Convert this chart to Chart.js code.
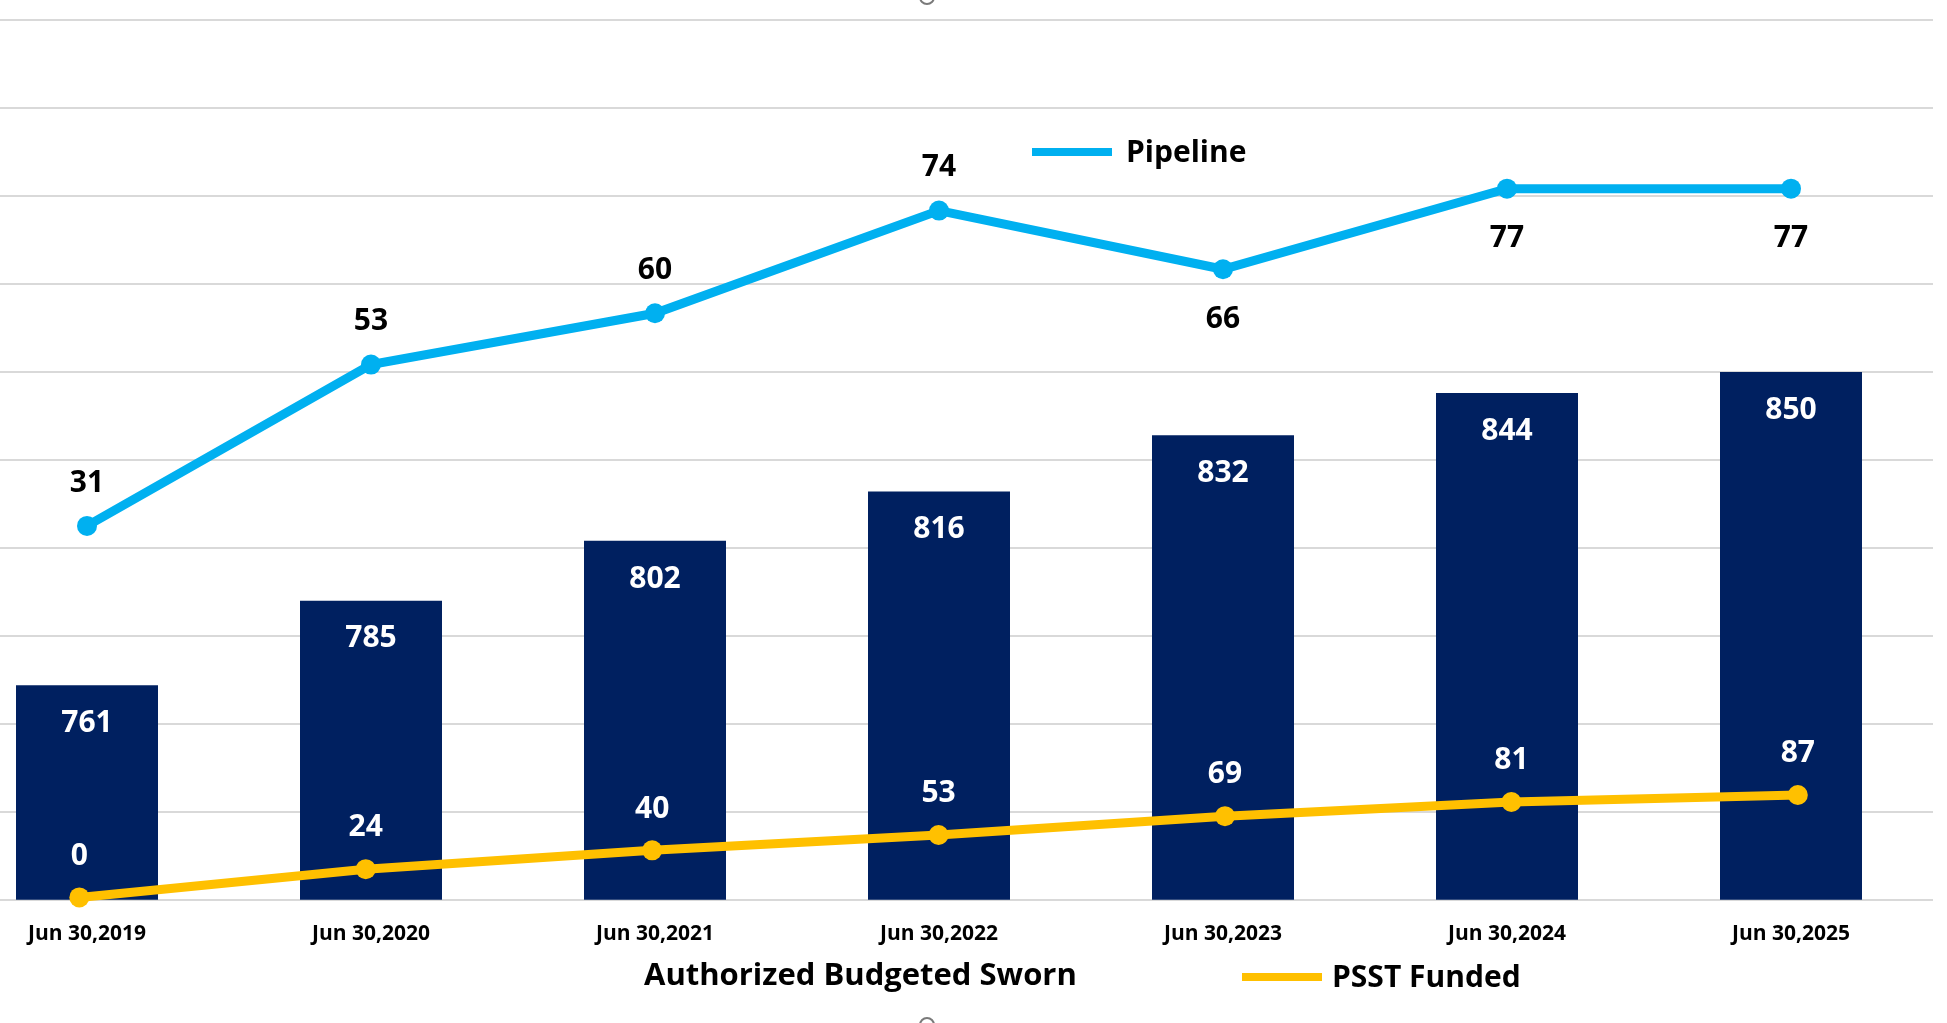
<!DOCTYPE html>
<html><head><meta charset="utf-8">
<script src="https://cdn.jsdelivr.net/npm/chart.js@4.4.1/dist/chart.umd.min.js"></script>
<style>
html,body{margin:0;padding:0;background:#fff;overflow:hidden;width:1947px;height:1023px;position:relative;}
#wrap{position:absolute;left:-55px;top:0;width:1988px;height:1023px;}
.leg{position:absolute;font-family:'Open Sans', sans-serif;font-weight:700;font-size:30px;line-height:30px;color:#000;white-space:nowrap;}
.sw{position:absolute;height:8px;width:80px;}
.handle{position:absolute;width:12px;height:12px;border:2.5px solid #7a7a7a;border-radius:50%;background:#fff;}
</style></head><body>
<div id="wrap"><canvas id="c" width="1988" height="1023"></canvas></div>
<div id="legends"></div>
<div class="handle" style="left:919px;top:-11px"></div>
<div class="handle" style="left:919px;top:1017px"></div>
<script>
// ---- data ----
const categories = ['Jun 30,2019','Jun 30,2020','Jun 30,2021','Jun 30,2022','Jun 30,2023','Jun 30,2024','Jun 30,2025'];
const seriesNames = ['Authorized Budgeted Sworn','Pipeline','PSST Funded'];
const budgetedSworn = [761,785,802,816,832,844,850];
const pipeline = [31,53,60,74,66,77,77];
const psstFunded = [0,24,40,53,69,81,87];
const pipelineLabelSide = ['above','above','above','above','below','below','below'];

const NAVY = '#002060', CYAN = '#00B0F0', GOLD = '#FFC000';
const FONT = "'Open Sans', sans-serif";

// ---- legends (real text) ----
const legendSpec = [
  {name: seriesNames[1], color: CYAN, sw: [1032,148], txt: [1126,136], size: 30},
  {name: seriesNames[0], color: null, sw: null, txt: [644,958], size: 31},
  {name: seriesNames[2], color: GOLD, sw: [1242,973], txt: [1332,961], size: 30}
];
const legRoot = document.getElementById('legends');
legendSpec.forEach(l => {
  if (l.sw) {
    const s = document.createElement('div');
    s.className = 'sw';
    s.style.left = l.sw[0] + 'px'; s.style.top = l.sw[1] + 'px'; s.style.background = l.color;
    legRoot.appendChild(s);
  }
  const t = document.createElement('div');
  t.className = 'leg';
  t.style.left = l.txt[0] + 'px'; t.style.top = l.txt[1] + 'px';
  t.style.fontSize = l.size + 'px';
  t.textContent = l.name;
  legRoot.appendChild(t);
});

// ---- value label plugin ----
const valueLabels = {
  id: 'valueLabels',
  afterDatasetsDraw(chart) {
    const ctx = chart.ctx;
    ctx.save();
    ctx.font = '700 30px ' + FONT;
    ctx.textAlign = 'center';
    ctx.textBaseline = 'alphabetic';
    const halfCap = 10.7;
    chart.data.datasets.forEach((ds, di) => {
      const meta = chart.getDatasetMeta(di);
      const cfg = ds.valueLabel;
      if (!cfg) return;
      meta.data.forEach((el, i) => {
        const raw = ds.data[i];
        const v = (raw !== null && typeof raw === 'object') ? raw.y : raw;
        const cy = cfg.center(el, i);
        ctx.fillStyle = cfg.color;
        ctx.fillText(String(v), el.x, cy + halfCap);
      });
    });
    ctx.restore();
  }
};

const ctx = document.getElementById('c').getContext('2d');
new Chart(ctx, {
  type: 'bar',
  data: {
    labels: categories,
    datasets: [
      {
        type: 'line', label: seriesNames[2],
        data: psstFunded.map((v, i) => ({x: i, y: v})),
        xAxisID: 'x2', yAxisID: 'yP',
        borderColor: GOLD, backgroundColor: GOLD, borderWidth: 9,
        pointRadius: 10, pointBorderWidth: 0, pointBackgroundColor: GOLD,
        tension: 0, clip: false, order: 0,
        valueLabel: {color: '#ffffff', center: (el) => el.y - 43.5}
      },
      {
        type: 'line', label: seriesNames[1],
        data: pipeline,
        xAxisID: 'x', yAxisID: 'yL',
        borderColor: CYAN, backgroundColor: CYAN, borderWidth: 9,
        pointRadius: 10, pointBorderWidth: 0, pointBackgroundColor: CYAN,
        tension: 0, clip: false, order: 1,
        valueLabel: {color: '#000000', center: (el, i) => pipelineLabelSide[i] === 'above' ? el.y - 45 : el.y + 48}
      },
      {
        type: 'bar', label: seriesNames[0],
        data: budgetedSworn,
        xAxisID: 'x', yAxisID: 'y',
        backgroundColor: NAVY, borderWidth: 0, grouped: false,
        barPercentage: 0.5, categoryPercentage: 1.0, order: 2,
        valueLabel: {color: '#ffffff', center: (el) => el.y + 36}
      }
    ]
  },
  options: {
    responsive: false,
    animation: false,
    devicePixelRatio: 1,
    layout: {autoPadding: false, padding: {top: 20, bottom: 54, left: 0, right: 0}},
    plugins: {legend: {display: false}, tooltip: {enabled: false}, title: {display: false}},
    scales: {
      x: {
        type: 'category', position: 'bottom', offset: true,
        grid: {display: false, drawTicks: false},
        border: {display: false},
        ticks: {color: '#000', padding: 22, maxRotation: 0, autoSkip: false,
                font: {family: FONT, weight: '700', size: 21, lineHeight: 1.2}}
      },
      x2: {type: 'linear', display: false, offset: false, grid: {offset: false}, min: -0.469, max: 6.472},
      y: {
        type: 'linear', position: 'left', min: 700, max: 950,
        grid: {color: '#d9d9d9', lineWidth: 2, drawTicks: false},
        border: {display: false},
        ticks: {display: false, stepSize: 25}
      },
      yL: {type: 'linear', display: false, min: -20, max: 100},
      yP: {type: 'linear', display: false, min: -2, max: 745}
    }
  },
  plugins: [valueLabels]
});
</script>
</body></html>
